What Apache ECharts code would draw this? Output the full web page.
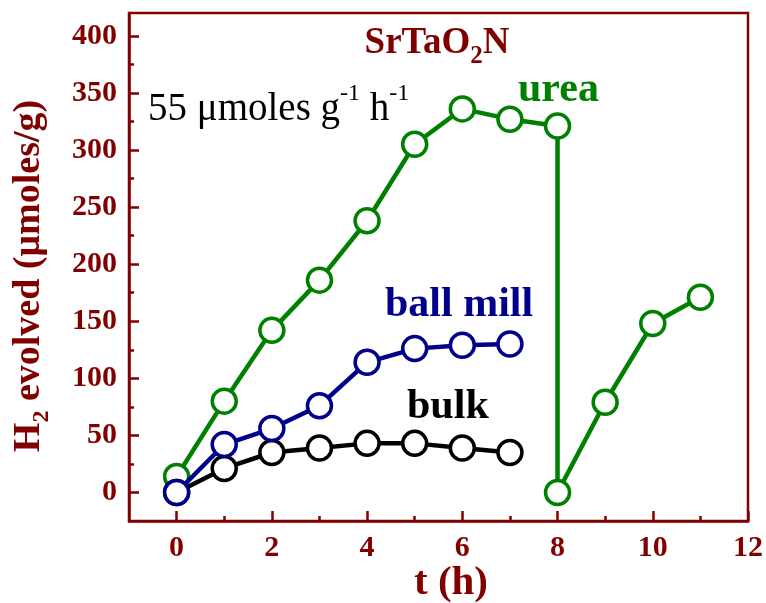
<!DOCTYPE html>
<html>
<head>
<meta charset="utf-8">
<script src="https://cdn.jsdelivr.net/npm/echarts@6/dist/echarts.min.js"></script>
<style>
  html, body { margin: 0; padding: 0; background: #ffffff; }
  #chart { width: 766px; height: 603px; }
</style>
</head>
<body>
<div id="chart"></div>
<script>
// H2 evolution over time for SrTaO2N samples
const hoursUrea = [0, 1, 2, 3, 4, 5, 6, 7, 8, 8, 9, 10, 11];
const h2Urea = [14, 80, 142, 186, 238, 305, 336, 327, 321, 0, 79, 148, 171];
const hours = [0, 1, 2, 3, 4, 5, 6, 7];
const h2BallMill = [0, 42, 56, 76, 114, 126, 129, 130];
const h2Bulk = [0, 21, 35, 39, 43, 43, 39, 35];

const xMajorTicks = [0, 2, 4, 6, 8, 10, 12];
const xMinorTicks = [1, 3, 5, 7, 9, 11];
const yMajorTicks = [0, 50, 100, 150, 200, 250, 300, 350, 400];
const yMinorTicks = [25, 75, 125, 175, 225, 275, 325, 375];

const AXIS = '#800000';
const GREEN = '#008000';
const NAVY = '#00008b';
const BLACK = '#000000';
const SERIF = '"Liberation Serif", "Times New Roman", serif';

function pairs(xs, ys) {
  return xs.map((x, i) => [x, ys[i]]);
}

function lineSeries(name, xs, ys, color, z) {
  return {
    name: name,
    type: 'line',
    data: pairs(xs, ys),
    symbol: 'circle',
    symbolSize: 24,
    showAllSymbol: true,
    z: z,
    lineStyle: { color: color, width: 4.5 },
    itemStyle: { color: '#ffffff', borderColor: color, borderWidth: 3.5 },
    emphasis: { disabled: true },
    silent: true
  };
}

function tickAxis(dim, min, max, values, len, labels) {
  return {
    type: 'value',
    min: min,
    max: max,
    position: dim === 'x' ? 'bottom' : 'left',
    axisLine: { show: labels, onZero: false, lineStyle: { color: AXIS, width: 2.5 } },
    axisTick: { show: true, inside: true, length: len, customValues: values,
                lineStyle: { color: AXIS, width: 2.5 } },
    axisLabel: labels ? {
      show: true, customValues: values, color: AXIS, fontSize: 30,
      fontWeight: 'bold', fontFamily: SERIF, margin: 12
    } : { show: false },
    splitLine: { show: false }
  };
}

const chart = echarts.init(document.getElementById('chart'), null, { renderer: 'canvas' });

const textBase = { fontFamily: SERIF, fontWeight: 'bold' };

chart.setOption({
  animation: false,
  backgroundColor: '#ffffff',
  grid: { left: 129, top: 13, right: 18, bottom: 82, show: true,
          borderColor: AXIS, borderWidth: 2.5, backgroundColor: 'transparent' },
  xAxis: [
    tickAxis('x', -1, 12, xMajorTicks, 10, true),
    tickAxis('x', -1, 12, xMinorTicks, 5, false)
  ],
  yAxis: [
    tickAxis('y', -25, 420, yMajorTicks, 10, true),
    tickAxis('y', -25, 420, yMinorTicks, 5, false)
  ],
  series: [
    lineSeries('urea', hoursUrea, h2Urea, GREEN, 2),
    lineSeries('bulk', hours, h2Bulk, BLACK, 3),
    lineSeries('ball mill', hours, h2BallMill, NAVY, 4)
  ],
  graphic: [
    {
      type: 'text', x: 437, y: 43, silent: true,
      style: {
        text: '{m|SrTaO}{s|2}{m|N}', align: 'center', verticalAlign: 'middle',
        rich: {
          m: Object.assign({ fontSize: 37, fill: AXIS, lineHeight: 37, verticalAlign: 'top' }, textBase),
          s: Object.assign({ fontSize: 25, fill: AXIS, lineHeight: 25, verticalAlign: 'top', padding: [20, 0, 0, 0] }, textBase)
        }
      }
    },
    {
      type: 'text', x: 148, y: 101, silent: true,
      style: {
        text: '{m|55 μmoles g}{p|-1}{m| h}{p|-1}', align: 'left', verticalAlign: 'middle',
        rich: {
          m: { fontSize: 39, fontFamily: SERIF, fill: BLACK, lineHeight: 39, verticalAlign: 'top', padding: [9, 0, 0, 0] },
          p: { fontSize: 24, fontFamily: SERIF, fill: BLACK, lineHeight: 24, verticalAlign: 'top' }
        }
      }
    },
    {
      type: 'text', x: 518, y: 90, silent: true,
      style: Object.assign({ text: 'urea', fontSize: 42, fill: GREEN, align: 'left', verticalAlign: 'middle' }, textBase)
    },
    {
      type: 'text', x: 385, y: 305, silent: true,
      style: Object.assign({ text: 'ball mill', fontSize: 42, fill: NAVY, align: 'left', verticalAlign: 'middle' }, textBase)
    },
    {
      type: 'text', x: 407, y: 407, silent: true,
      style: Object.assign({ text: 'bulk', fontSize: 42, fill: BLACK, align: 'left', verticalAlign: 'middle' }, textBase)
    },
    {
      type: 'text', x: 451, y: 583, silent: true,
      style: Object.assign({ text: 't (h)', fontSize: 41, fill: AXIS, align: 'center', verticalAlign: 'middle' }, textBase)
    },
    {
      type: 'text', x: 29, y: 276, rotation: Math.PI / 2, silent: true,
      style: {
        text: '{m|H}{s|2}{m| evolved (μmoles/g)}', align: 'center', verticalAlign: 'middle',
        rich: {
          m: Object.assign({ fontSize: 38, fill: AXIS, lineHeight: 38, verticalAlign: 'top' }, textBase),
          s: Object.assign({ fontSize: 24, fill: AXIS, lineHeight: 24, verticalAlign: 'top', padding: [20, 0, 0, 0] }, textBase)
        }
      }
    }
  ]
});
</script>
</body>
</html>
